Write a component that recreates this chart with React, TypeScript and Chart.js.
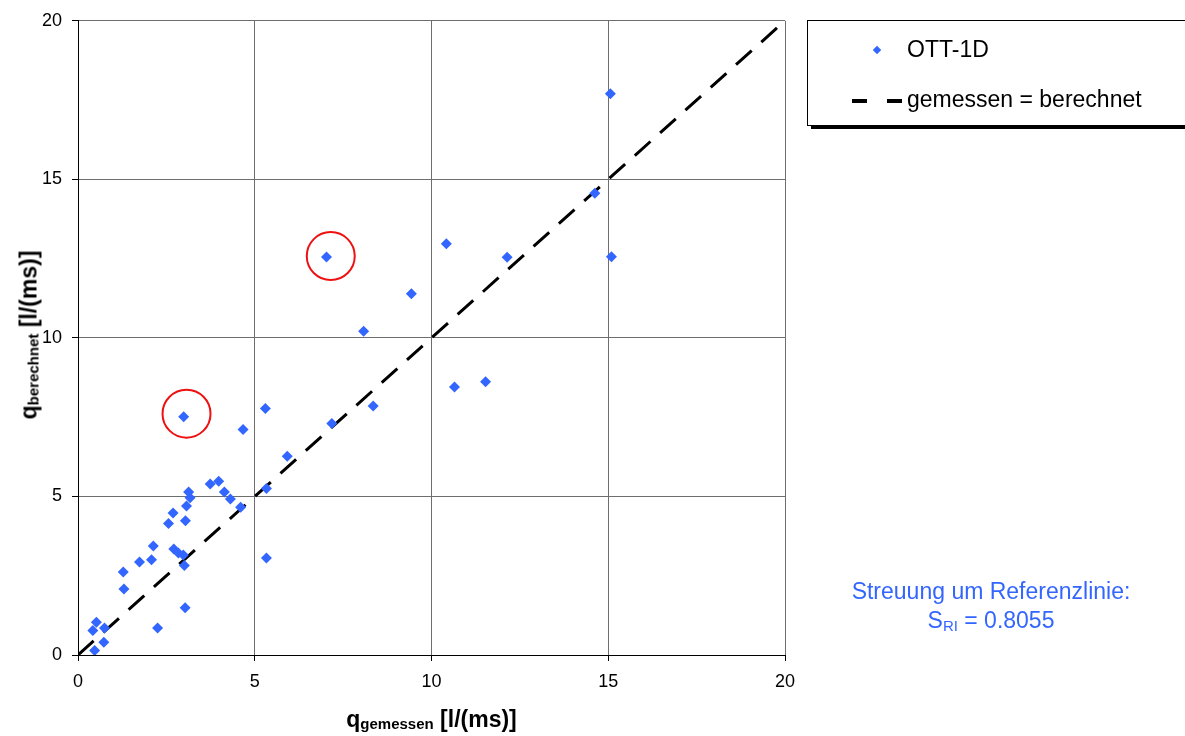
import React, { useEffect, useRef } from 'react';
import { Chart, registerables } from 'chart.js';

Chart.register(...registerables);

// Measured discharge (x) and computed discharge (y), l/(ms)
const measuredQ = [
  0.47, 0.73, 0.42, 0.52, 0.75, 2.25, 3.03, 1.30, 1.28, 1.74, 2.08, 2.13, 3.01, 2.71, 2.84,
  2.98, 2.56, 2.69, 3.04, 3.07, 3.17, 3.13, 3.74, 3.98, 4.14, 4.31, 4.60, 5.33, 5.33, 2.99,
  4.67, 5.30, 5.92, 7.18, 8.35, 8.08, 7.03, 9.43, 10.42, 12.14, 10.65, 11.53, 14.62, 15.06, 15.09,
];
const computedQ = [
  0.14, 0.40, 0.77, 1.03, 0.85, 0.85, 1.49, 2.08, 2.62, 2.93, 3.00, 3.44, 2.82, 3.34, 3.22,
  3.15, 4.15, 4.48, 4.23, 4.70, 4.96, 5.14, 5.39, 5.48, 5.14, 4.92, 4.66, 5.25, 3.06, 7.51,
  7.11, 7.77, 6.27, 7.30, 7.85, 10.21, 12.55, 11.39, 12.97, 12.54, 8.45, 8.62, 14.56, 17.70, 12.56,
];
// Highlighted (circled) outliers
const highlightX = [7.15, 3.07];
const highlightY = [12.58, 7.61];
// Reference line: gemessen = berechnet
const refLineX = [0, 20];
const refLineY = [0, 20];
// Axis range and tick step
const axisMin = 0;
const axisMax = 20;
const tickStep = 5;

const seriesLabel = 'OTT-1D';
const refLabel = 'gemessen = berechnet';
const noteLine1 = 'Streuung um Referenzlinie:';
const noteValue = '0.8055';

const FONT = "'Liberation Sans', Arial, sans-serif";
const BLUE = '#3366ff';

export default function App() {
  const canvasRef = useRef<HTMLCanvasElement | null>(null);

  useEffect(() => {
    const canvas = canvasRef.current;
    if (!canvas) return;
    const points = measuredQ.map((x, i) => ({ x, y: computedQ[i] }));
    const circles = highlightX.map((x, i) => ({ x, y: highlightY[i] }));
    const line = refLineX.map((x, i) => ({ x, y: refLineY[i] }));

    const tickFont = { family: FONT, size: 18 };
    const chart = new Chart(canvas, {
      type: 'scatter',
      data: {
        datasets: [
          {
            label: seriesLabel,
            data: points,
            pointStyle: 'rectRot',
            pointRadius: 5.5,
            pointBackgroundColor: BLUE,
            pointBorderColor: BLUE,
            pointBorderWidth: 0,
            showLine: false,
          },
          {
            label: 'highlight',
            data: circles,
            pointStyle: 'circle',
            pointRadius: 24,
            pointBackgroundColor: 'rgba(0,0,0,0)',
            pointBorderColor: '#ee1111',
            pointBorderWidth: 2,
            showLine: false,
          },
          {
            label: refLabel,
            data: line,
            showLine: true,
            borderColor: '#000',
            borderWidth: 3,
            borderDash: [21, 13],
            pointRadius: 0,
            fill: false,
          },
        ],
      },
      options: {
        animation: false,
        responsive: false,
        maintainAspectRatio: false,
        devicePixelRatio: 1,
        layout: { autoPadding: false, padding: { left: 0, top: 20, right: 400, bottom: 0 } },
        plugins: {
          legend: { display: false },
          tooltip: { enabled: false },
          title: { display: false },
        },
        scales: {
          x: {
            type: 'linear',
            min: axisMin,
            max: axisMax,
            ticks: { stepSize: tickStep, color: '#000', font: tickFont, padding: 10 },
            grid: { color: '#6e6e6e', lineWidth: 1, tickColor: '#000', tickLength: 6, drawTicks: true },
            border: { color: '#000', width: 1 },
            afterFit: (s: any) => { s.height = 81; },
          },
          y: {
            type: 'linear',
            min: axisMin,
            max: axisMax,
            ticks: { stepSize: tickStep, color: '#000', font: tickFont, padding: 10 },
            grid: { color: '#6e6e6e', lineWidth: 1, tickColor: '#000', tickLength: 6, drawTicks: true },
            border: { color: '#000', width: 1 },
            afterFit: (s: any) => { s.width = 78; },
          },
        },
      },
    });
    return () => chart.destroy();
  }, []);

  const textBase: React.CSSProperties = {
    position: 'absolute',
    fontFamily: FONT,
    whiteSpace: 'nowrap',
    color: '#000',
  };

  return (
    <div style={{ position: 'absolute', left: 0, top: 0, width: 1185, height: 736, overflow: 'hidden', background: '#fff' }}>
      <canvas ref={canvasRef} width={1185} height={736} style={{ position: 'absolute', left: 0, top: 0 }} />

      {/* Y axis title */}
      <div
        style={{
          ...textBase,
          left: 30,
          top: 335,
          fontSize: 23,
          lineHeight: '28px',
          fontWeight: 'bold',
          transform: 'translate(-50%, -50%) rotate(-90deg)',
        }}
      >
        q<span style={{ fontSize: 15, position: 'relative', top: 2 }}>berechnet</span> [l/(ms)]
      </div>

      {/* X axis title */}
      <div
        style={{
          ...textBase,
          left: 431.5,
          top: 705,
          fontSize: 23,
          lineHeight: '28px',
          fontWeight: 'bold',
          transform: 'translateX(-50%)',
        }}
      >
        q<span style={{ fontSize: 15, position: 'relative', top: 2 }}>gemessen</span> [l/(ms)]
      </div>

      {/* Legend box */}
      <div
        style={{
          position: 'absolute',
          left: 807,
          top: 20,
          width: 420,
          height: 106,
          boxSizing: 'border-box',
          border: '1px solid #000',
          boxShadow: '4px 3px 0 #000',
          background: '#fff',
        }}
      />
      <div
        style={{
          position: 'absolute',
          left: 874,
          top: 47,
          width: 6,
          height: 6,
          background: BLUE,
          transform: 'rotate(45deg)',
        }}
      />
      <div style={{ ...textBase, left: 907, top: 35, fontSize: 23, lineHeight: '28px' }}>{seriesLabel}</div>
      <div style={{ position: 'absolute', left: 852, top: 99, width: 15, height: 4, background: '#000' }} />
      <div style={{ position: 'absolute', left: 887, top: 99, width: 15, height: 4, background: '#000' }} />
      <div style={{ ...textBase, left: 907, top: 85, fontSize: 23, lineHeight: '28px' }}>{refLabel}</div>

      {/* Annotation */}
      <div
        style={{
          ...textBase,
          left: 991,
          top: 577,
          fontSize: 23,
          lineHeight: '29px',
          color: BLUE,
          textAlign: 'center',
          transform: 'translateX(-50%)',
        }}
      >
        <div>{noteLine1}</div>
        <div>
          S<span style={{ fontSize: 15, position: 'relative', top: 3 }}>RI</span> = {noteValue}
        </div>
      </div>
    </div>
  );
}
